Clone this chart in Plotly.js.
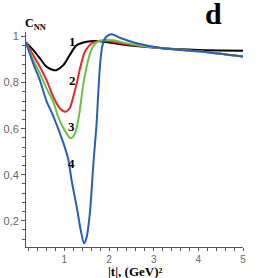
<!DOCTYPE html>
<html>
<head>
<meta charset="utf-8">
<script src="https://cdn.plot.ly/plotly-3.0.1.min.js"></script>
<style>html,body{margin:0;padding:0;background:#fff;}#chart{width:269px;height:278px;}</style>
</head>
<body>
<div id="chart"></div>
<script>
// Curve 1 (black)
const x1 = [0.14, 0.3, 0.45, 0.6, 0.75, 0.83, 0.98, 1.12, 1.27, 1.5, 1.72, 2.0, 2.3, 2.6, 3.2, 4.0, 5.0];
const y1 = [0.975, 0.942, 0.906, 0.869, 0.855, 0.855, 0.877, 0.920, 0.962, 0.978, 0.981, 0.974, 0.966, 0.959, 0.949, 0.942, 0.939];
// Curve 2 (red)
const x2 = [0.14, 0.3, 0.45, 0.6, 0.75, 0.9, 1.03, 1.12, 1.2, 1.28, 1.36, 1.45, 1.55, 1.65, 1.8, 2.0, 2.3, 2.6, 3.2, 4.0, 5.0];
const y2 = [0.975, 0.920, 0.869, 0.811, 0.739, 0.688, 0.674, 0.690, 0.740, 0.800, 0.870, 0.930, 0.960, 0.975, 0.982, 0.980, 0.970, 0.962, 0.949, 0.936, 0.913];
// Curve 3 (green)
const x3 = [0.14, 0.3, 0.45, 0.6, 0.75, 0.86, 0.98, 1.14, 1.24, 1.33, 1.42, 1.5, 1.57, 1.65, 1.75, 1.9, 2.1, 2.3, 2.6, 3.2, 4.0, 5.0];
const y3 = [0.975, 0.898, 0.841, 0.775, 0.717, 0.652, 0.602, 0.558, 0.580, 0.660, 0.790, 0.870, 0.925, 0.960, 0.978, 0.985, 0.984, 0.975, 0.964, 0.949, 0.936, 0.913];
// Curve 4 (blue)
const x4 = [0.14, 0.3, 0.45, 0.6, 0.75, 0.98, 1.09, 1.16, 1.275, 1.365, 1.44, 1.5, 1.57, 1.65, 1.72, 1.76, 1.8, 1.85, 1.92, 2.06, 2.24, 2.6, 3.2, 4.0, 5.0];
const y4 = [0.975, 0.884, 0.811, 0.720, 0.655, 0.536, 0.464, 0.377, 0.261, 0.160, 0.102, 0.130, 0.232, 0.450, 0.620, 0.760, 0.880, 0.960, 0.995, 1.010, 0.995, 0.972, 0.949, 0.936, 0.913];

const curveLabels = ["1", "2", "3", "4"];
const labelX = [1.19, 1.18, 1.17, 1.17];
const labelY = [0.978, 0.811, 0.609, 0.450];

const colors = ["#000000", "#e8262c", "#6cc04a", "#2b5fb4"];
const xs = [x1, x2, x3, x4];
const ys = [y1, y2, y3, y4];

const traces = xs.map((x, i) => ({
  x: x, y: ys[i], type: "scatter", mode: "lines",
  line: {color: colors[i], width: 2, shape: "spline", smoothing: 0.8},
  hoverinfo: "skip", showlegend: false
}));

const serif = "Liberation Serif, Times New Roman, serif";
const annotations = curveLabels.map((t, i) => ({
  x: labelX[i], y: labelY[i], xref: "x", yref: "y", text: "<b>" + t + "</b>",
  showarrow: false, font: {family: serif, size: 13, color: "#000"}
}));
annotations.push({
  x: -0.015, y: 1.035, xref: "paper", yref: "paper", xanchor: "left", yanchor: "middle",
  text: "<b>C<sub>NN</sub></b>", showarrow: false, font: {family: serif, size: 12, color: "#000"}
});
annotations.push({
  x: 0.866, y: 1.085, xref: "paper", yref: "paper", xanchor: "center", yanchor: "middle",
  text: "<b>d</b>", showarrow: false, font: {family: serif, size: 30, color: "#000"}
});
annotations.push({
  x: 0.5, y: -0.112, xref: "paper", yref: "paper", xanchor: "center", yanchor: "middle",
  text: "<b>|t|, (GeV)²</b>", showarrow: false, font: {family: serif, size: 13, color: "#000"}
});

const layout = {
  width: 269, height: 278,
  margin: {l: 26, r: 26, t: 32, b: 31, pad: 0},
  paper_bgcolor: "#fff", plot_bgcolor: "#fff",
  separators: ", ",
  showlegend: false,
  xaxis: {
    range: [0.14, 5.0], tick0: 0, dtick: 1, showgrid: false, zeroline: false,
    showline: true, linecolor: "#555", linewidth: 1,
    ticks: "outside", ticklen: 3, tickcolor: "#555", tickwidth: 1,
    minor: {tick0: 0, dtick: 0.2, ticks: "outside", ticklen: 3, tickcolor: "#555", showgrid: false},
    tickfont: {family: "Liberation Sans, Arial, sans-serif", size: 10, color: "#666"}
  },
  yaxis: {
    range: [0.086, 1.02], tick0: 0, dtick: 0.2, showgrid: false, zeroline: false,
    showline: true, linecolor: "#555", linewidth: 1,
    ticks: "outside", ticklen: 4, tickcolor: "#555", tickwidth: 1,
    minor: {tick0: 0, dtick: 0.04, ticks: "outside", ticklen: 3, tickcolor: "#555", showgrid: false},
    tickfont: {family: "Liberation Sans, Arial, sans-serif", size: 11, color: "#666"}
  },
  annotations: annotations
};

Plotly.newPlot("chart", traces, layout, {staticPlot: true, displayModeBar: false});
</script>
</body>
</html>
